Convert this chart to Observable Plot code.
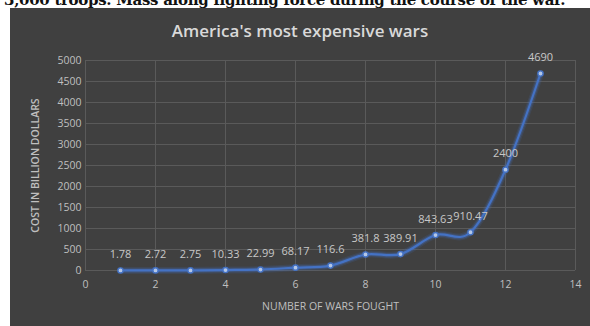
<!DOCTYPE html>
<html>
<head>
<meta charset="utf-8">
<script src="https://cdn.jsdelivr.net/npm/d3@7"></script>
<script src="https://cdn.jsdelivr.net/npm/@observablehq/plot@0.6"></script>
<style>
  body { margin: 0; background: #fff; width: 590px; height: 326px; overflow: hidden; position: relative; }
  #lead { position: absolute; left: 4px; top: -9px; font: bold 15px "DejaVu Serif", serif; color: #111; white-space: nowrap; letter-spacing: -0.3px; }
  #panel { position: absolute; left: 10px; top: 8px; width: 580px; height: 318px; background: #404040; overflow: hidden; }
  #title { position: absolute; top: 11px; width: 100%; text-align: center; font: 600 17px "Open Sans", sans-serif; color: #d9d9d9; }
  #chart { position: absolute; top: 40px; left: 0; }
  #chart g[aria-label="y-axis label"] text { font-weight: 600; }
</style>
</head>
<body>
<div id="lead">3,000 troops. Mass along fighting force during the course of the war.</div>
<div id="panel">
  <div id="title">America's most expensive wars</div>
  <div id="chart"></div>
</div>
<script>
// Wars in order, with their cost in billions of dollars
const warNumber = [1, 2, 3, 4, 5, 6, 7, 8, 9, 10, 11, 12, 13];
const costBillions = [1.78, 2.72, 2.75, 10.33, 22.99, 68.17, 116.6, 381.8, 389.91, 843.63, 910.47, 2400, 4690];
const xTicks = [0, 2, 4, 6, 8, 10, 12, 14];
const yTicks = [0, 500, 1000, 1500, 2000, 2500, 3000, 3500, 4000, 4500, 5000];

const wars = warNumber.map((n, i) => ({n, cost: costBillions[i]}));

const blue = "#4472c4";
const chart = Plot.plot({
  width: 580,
  height: 278,
  marginLeft: 75,
  marginRight: 15,
  marginTop: 12,
  marginBottom: 56,
  style: {background: "transparent", color: "#bfbfbf", fontFamily: "'Open Sans', sans-serif", fontSize: "10.5px"},
  x: {domain: [0, 14], ticks: xTicks, tickFormat: d => String(d), tickSize: 0, tickPadding: 10,
      label: "NUMBER OF WARS FOUGHT", labelArrow: false, labelAnchor: "center", labelOffset: 39},
  y: {domain: [0, 5000], ticks: yTicks, tickFormat: d => String(d), tickSize: 0, tickPadding: 4,
      label: "COST IN BILLION DOLLARS", labelArrow: false, labelAnchor: "center", labelOffset: 54},
  marks: [
    Plot.gridX(xTicks, {stroke: "#5a5a5a", strokeOpacity: 1}),
    Plot.gridY(yTicks, {stroke: "#5a5a5a", strokeOpacity: 1}),
    Plot.line(wars, {x: "n", y: "cost", curve: "cardinal", stroke: blue, strokeWidth: 7, strokeOpacity: 0.15}),
    Plot.line(wars, {x: "n", y: "cost", curve: "cardinal", stroke: blue, strokeWidth: 4.5, strokeOpacity: 0.3}),
    Plot.line(wars, {x: "n", y: "cost", curve: "cardinal", stroke: blue, strokeWidth: 2.2}),
    Plot.dot(wars, {x: "n", y: "cost", r: 2.6, fill: "#b4c7e7", stroke: blue, strokeWidth: 1.4}),
    Plot.text(wars, {x: "n", y: "cost", text: d => String(d.cost), dy: -16, fill: "#c8c8c8", fontSize: 11})
  ]
});
document.getElementById("chart").appendChild(chart);
</script>
</body>
</html>
